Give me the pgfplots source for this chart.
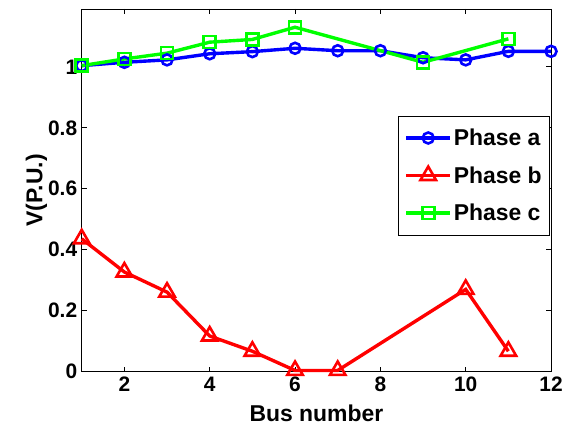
\documentclass[border=0pt]{standalone}
\usepackage{pgfplots}
\pgfplotsset{compat=1.18}
\usepackage{fontspec}
\setmainfont{Liberation Sans}
\definecolor{mblue}{RGB}{0,0,255}
\definecolor{mred}{RGB}{255,0,0}
\definecolor{mgreen}{RGB}{0,255,0}
\begin{document}
\begin{tikzpicture}
\begin{axis}[
  scale only axis,
  width=471pt, height=364pt,
  xmin=1, xmax=12, ymin=0, ymax=1.19,
  xtick={2,4,6,8,10,12},
  ytick={0,0.2,0.4,0.6,0.8,1},
  tick align=inside, tick pos=both,
  major tick length=5pt,
  axis line style={line width=0.8pt},
  every tick/.style={black, line width=0.8pt},
  /pgf/number format/assume math mode=true,
  tick label style={font=\bfseries\fontsize{21}{24}\selectfont},
  xticklabel style={yshift=-2pt},
  yticklabel style={xshift=-1pt},
  xlabel={\bfseries\fontsize{23}{26}\selectfont Bus number},
  ylabel={\bfseries\fontsize{23}{26}\selectfont V(P.U.)},
  xlabel style={yshift=-6pt},
  ylabel style={yshift=-6pt},
  legend style={at={(0.998,0.706)}, anchor=north east, draw=black, line width=0.8pt,
    font=\bfseries\fontsize{23}{26}\selectfont, row sep=15.5pt, inner xsep=6pt, inner ysep=11pt},
  legend cell align=left,
  legend image code/.code={\draw[mark repeat=2,mark phase=2] plot coordinates {(0pt,0pt) (22pt,0pt) (44pt,0pt)};},
  clip=false,
]
\addplot[mblue, line width=3.4pt, mark=o, mark size=5.5pt, mark options={line width=2.6pt}]
  coordinates {(1,1.004) (2,1.015) (3,1.023) (4,1.043) (5,1.050) (6,1.061) (7,1.053) (8,1.053) (9,1.030) (10,1.023) (11,1.051) (12,1.051)};
\addlegendentry{Phase a}
\addplot[mred, line width=3.4pt, mark=triangle, mark size=9pt, mark options={line width=2.6pt}]
  coordinates {(1,0.436) (2,0.327) (3,0.261) (4,0.117) (5,0.067) (6,0.004) (7,0.004) (10,0.27) (11,0.067)};
\addlegendentry{Phase b}
\addplot[mgreen, line width=3.4pt, mark=square, mark size=6pt, mark options={line width=2.6pt}]
  coordinates {(1,1.004) (2,1.026) (3,1.045) (4,1.081) (5,1.090) (6,1.130) (9,1.015) (11,1.092)};
\addlegendentry{Phase c}
\end{axis}
\path (current axis.south west) +(-82pt,-54pt) (current axis.north east) +(13pt,9pt);
\end{tikzpicture}
\end{document}
